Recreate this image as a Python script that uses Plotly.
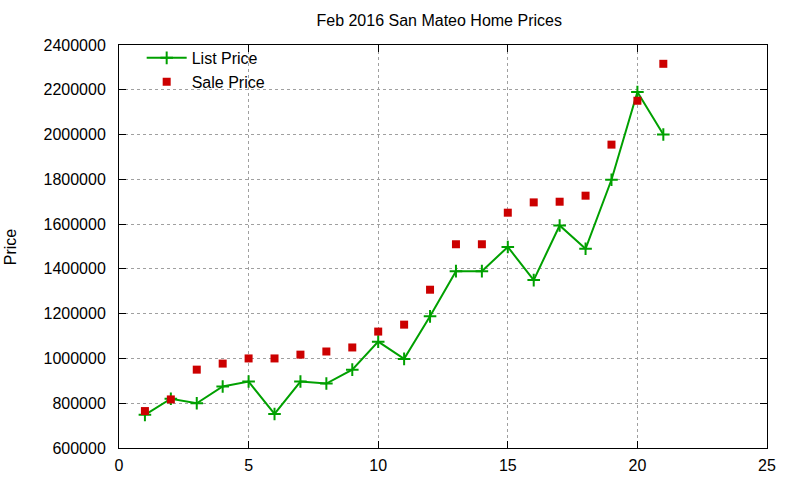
import plotly.graph_objects as go

# data
listing = list(range(1, 22))
list_price = [748000, 820000, 800000, 875000, 897000, 752000, 897000, 888000, 950000, 1075000,
              998000, 1188000, 1390000, 1390000, 1498000, 1350000, 1594000, 1490000, 1798000,
              2190000, 2000000]
sale_price = [765000, 817000, 950000, 977000, 1000000, 1000000, 1017000, 1031000, 1049000, 1120000,
              1151000, 1307000, 1510000, 1510000, 1651000, 1697000, 1700000, 1727000, 1955000,
              2151000, 2316000]

FONT = "Liberation Sans, Arial, sans-serif"

fig = go.Figure()

fig.add_trace(go.Scatter(
    x=listing, y=list_price,
    mode='lines+markers',
    name='List Price',
    line=dict(color='#00a000', width=2),
    marker=dict(symbol='cross-thin', size=9, color='#00a000',
                line=dict(color='#00a000', width=2)),
))

fig.add_trace(go.Scatter(
    x=listing, y=sale_price,
    mode='markers',
    name='Sale Price',
    marker=dict(symbol='square', size=8, color='#cc0000', line=dict(width=0)),
))

axis_common = dict(
    showline=True, linecolor='black', linewidth=1, mirror='ticks',
    ticks='inside', ticklen=7, tickcolor='black',
    showgrid=True, gridcolor='#a0a0a0', griddash='dot', gridwidth=1,
    zeroline=False, automargin=False,
    tickfont=dict(family=FONT, size=16, color='black'),
)

fig.update_xaxes(range=[0, 25], dtick=5, tick0=0, ticklabelstandoff=3, **axis_common)
fig.update_yaxes(range=[600000, 2400000], dtick=200000, tickformat='d',
                 ticklabelstandoff=9, **axis_common)

fig.update_layout(
    width=800, height=480,
    paper_bgcolor='white', plot_bgcolor='white',
    margin=dict(l=119, r=33, t=45, b=32),
    title=dict(text='Feb 2016 San Mateo Home Prices', x=0.549, xanchor='center',
               y=0.958, yanchor='middle', font=dict(family=FONT, size=16, color='black')),
    legend=dict(x=0.035, y=1.01, xanchor='left', yanchor='top', bgcolor='rgba(0,0,0,0)',
                font=dict(family=FONT, size=16, color='black'), tracegroupgap=0,
                itemwidth=40),
    annotations=[dict(text='Price', textangle=-90, xref='paper', yref='paper',
                      x=-0.167, y=0.5, xanchor='center', yanchor='middle', showarrow=False,
                      font=dict(family=FONT, size=16, color='black'))],
)

# drop the default 8px body margin so the figure sits at the page corner
fig.write_html("out.html", config={'displayModeBar': False},
               post_script="document.body.style.margin='0';")
